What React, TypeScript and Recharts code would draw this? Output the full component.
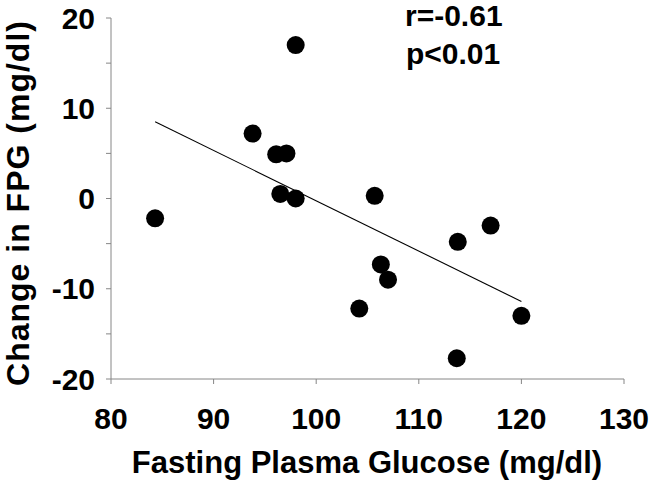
import React from 'react';
import { ScatterChart, Scatter, XAxis, YAxis, Label, Customized } from 'recharts';

const glucose = [84.3, 93.8, 96.1, 97.1, 96.5, 98.0, 98.0, 105.7, 106.3, 107.0, 104.2, 113.8, 117.0, 120.0, 113.7];
const changeFPG = [-2.2, 7.2, 4.9, 5.0, 0.5, 0.0, 17.0, 0.3, -7.3, -9.0, -12.2, -4.8, -3.0, -13.0, -17.7];
const fitX = [84.3, 120.0];
const fitY = [8.5, -11.4];
const xTicks = [80, 90, 100, 110, 120, 130];
const yTicks = [-20, -15, -10, -5, 0, 5, 10, 15, 20];
const statLines = ['r=-0.61', 'p<0.01'];
const xTitle = 'Fasting Plasma Glucose (mg/dl)';
const yTitle = 'Change in FPG (mg/dl)';

const points = glucose.map((x, i) => ({ x, y: changeFPG[i] }));
const fit = fitX.map((x, i) => ({ x, y: fitY[i] }));

const FONT = '"Liberation Sans", Arial, sans-serif';
const AXIS = '#868686';

const Dot = (props: any) => <circle cx={props.cx} cy={props.cy} r={9} fill="#000" />;
const NoDot = () => <g />;

const Stats = () => (
  <g>
    <text x={405} y={26} fontFamily={FONT} fontWeight="bold" fontSize={30} fill="#000">{statLines[0]}</text>
    <text x={406} y={64} fontFamily={FONT} fontWeight="bold" fontSize={30} fill="#000">{statLines[1]}</text>
  </g>
);

export default function App() {
  return (
    <div style={{ position: 'absolute', left: 0, top: 0, width: 652, height: 487, background: '#fff' }}>
      <ScatterChart width={652} height={487} margin={{ top: 18, right: 28, left: 0, bottom: 0 }}>
        <XAxis
          type="number"
          dataKey="x"
          domain={[80, 130]}
          ticks={xTicks}
          allowDataOverflow
          height={108}
          tickSize={5}
          tickMargin={24}
          stroke={AXIS}
          tick={{ fill: '#000', fontFamily: FONT, fontWeight: 'bold', fontSize: 30 }}
        >
          <Label
            content={() => (
              <text x={367} y={473} textAnchor="middle" fontFamily={FONT} fontWeight="bold" fontSize={31} fill="#000">
                {xTitle}
              </text>
            )}
          />
        </XAxis>
        <YAxis
          type="number"
          dataKey="y"
          domain={[-20, 20]}
          ticks={yTicks}
          allowDataOverflow
          width={111}
          tickSize={5}
          tickMargin={11}
          stroke={AXIS}
          tickFormatter={(v: number) => (v % 10 === 0 ? String(v) : '')}
          tick={{ fill: '#000', fontFamily: FONT, fontWeight: 'bold', fontSize: 30 }}
        >
          <Label
            content={() => (
              <text
                x={0}
                y={0}
                transform="translate(29,203) rotate(-90)"
                textAnchor="middle"
                fontFamily={FONT}
                fontWeight="bold"
                fontSize={32}
                letterSpacing={1}
                fill="#000"
              >
                {yTitle}
              </text>
            )}
          />
        </YAxis>
        <Scatter data={fit} line={{ stroke: '#000', strokeWidth: 1.1 }} shape={NoDot} isAnimationActive={false} legendType="none" />
        <Scatter data={points} shape={Dot} isAnimationActive={false} />
        <Customized component={Stats} />
      </ScatterChart>
    </div>
  );
}
